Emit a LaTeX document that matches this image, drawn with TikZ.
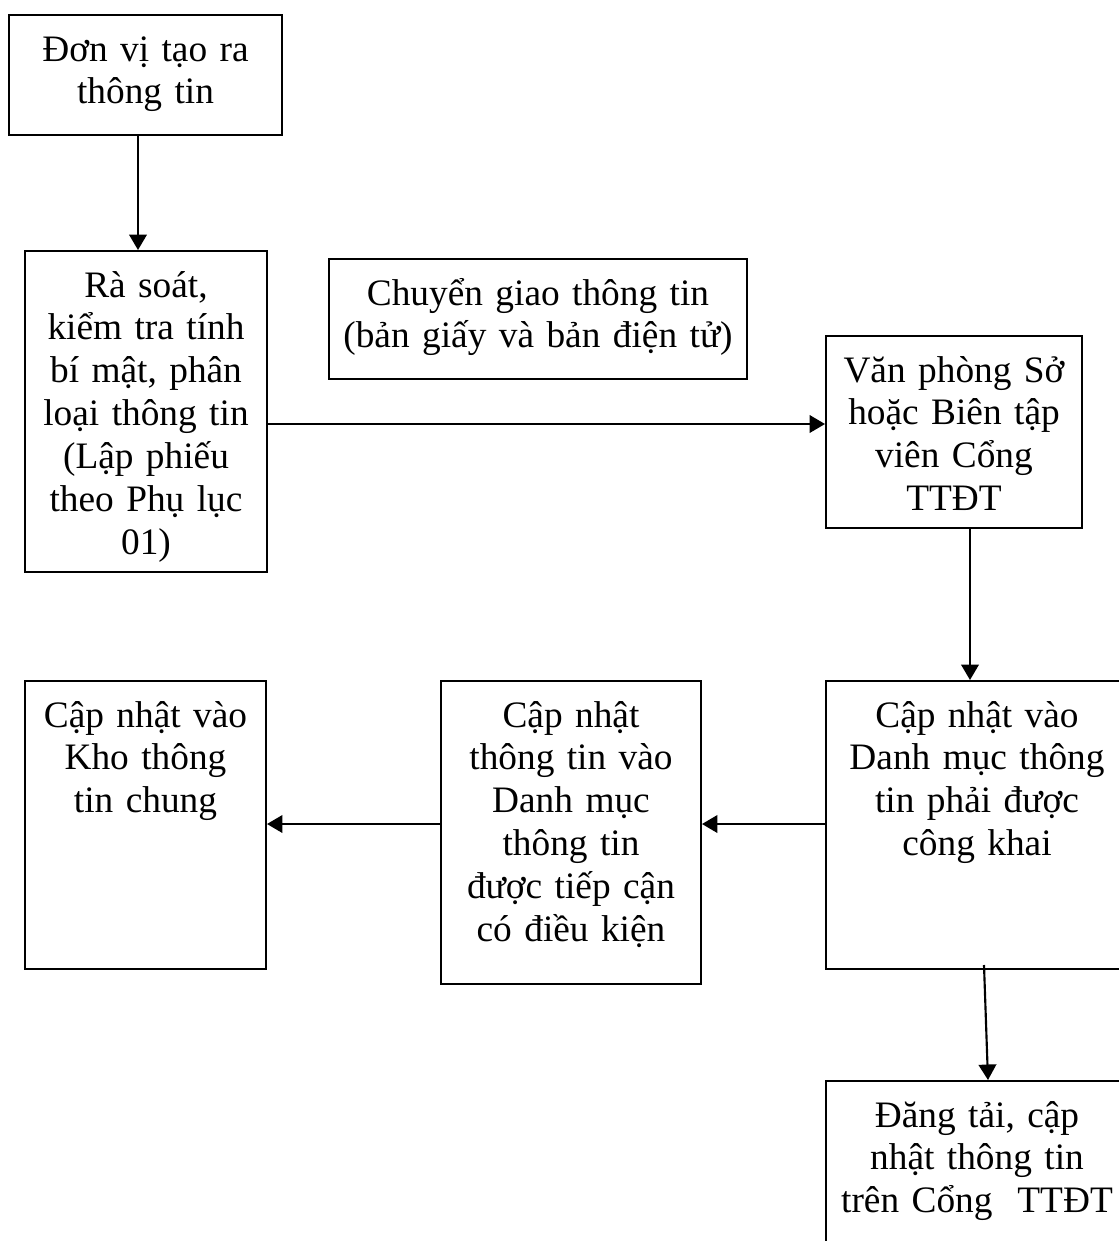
\documentclass[tikz,border=0pt]{standalone}
\usepackage{fontspec}
\setmainfont{Liberation Serif}
\usepackage{tikz}
\usetikzlibrary{arrows.meta}
\newlength\pxu
\setlength\pxu{0.375pt}
\tikzset{
  procbox/.style 2 args={rectangle, draw=black, line width=0.75pt,
    inner sep=0pt, align=center, anchor=north west,
    font=\fontsize{14pt}{16.1pt}\selectfont,
    text width=#1\pxu, text height=46\pxu,
    text depth=\dimexpr #2\pxu-46\pxu\relax},
  arrow/.style={-{Triangle[length=5.8pt, width=6.6pt]}, line width=0.8pt}
}
\begin{document}
\begin{tikzpicture}[x=0.375pt, y=-0.375pt]
  \useasboundingbox (0,0) rectangle (1119,1241);
  \clip (0,0) rectangle (1119,1241);

  \node[procbox={273}{120}] (a) at (8,14) {Đơn vị tạo ra\\thông tin};
  \node[procbox={242}{321}] (b) at (24,250) {Rà soát,\\kiểm tra tính\\bí mật, phân\\loại thông tin\\(Lập phiếu\\theo Phụ lục\\01)};
  \node[procbox={418}{120}] (c) at (328,258) {Chuyển giao thông tin\\(bản giấy và bản điện tử)};
  \node[procbox={256}{192}] (d) at (825,335) {Văn phòng Sở\\hoặc Biên tập\\viên Cổng\\TTĐT};
  \node[procbox={302}{288}] (e) at (825,680) {Cập nhật vào\\Danh mục thông\\tin phải được\\công khai};
  \node[procbox={260}{303}] (f) at (440,680) {Cập nhật\\thông tin vào\\Danh mục\\thông tin\\được tiếp cận\\có điều kiện};
  \node[procbox={241}{288}] (g) at (24,680) {Cập nhật vào\\Kho thông\\tin chung};
  \node[procbox={302}{220}] (h) at (825,1080) {Đăng tải, cập\\nhật thông tin\\trên Cổng\ \ TTĐT};

  \draw[arrow] ([xshift=-7.5\pxu]a.south) -- ([xshift=-7.5\pxu]a.south |- b.north);
  \draw[arrow] ([yshift=-12.5\pxu]b.east) -- ([yshift=-12.5\pxu]b.east -| d.west);
  \draw[arrow] ([xshift=16\pxu]d.south) -- ([xshift=16\pxu]d.south |- e.north);
  \draw[arrow] ([yshift=1\pxu]e.west) -- ([yshift=1\pxu]e.west -| f.east);
  \draw[arrow] ([yshift=1\pxu]f.west |- e.west) -- ([yshift=1\pxu]e.west -| g.east);
  \draw[arrow] ([xshift=7\pxu,yshift=5\pxu]e.south) -- ([xshift=11\pxu]h.north);
\end{tikzpicture}
\end{document}
